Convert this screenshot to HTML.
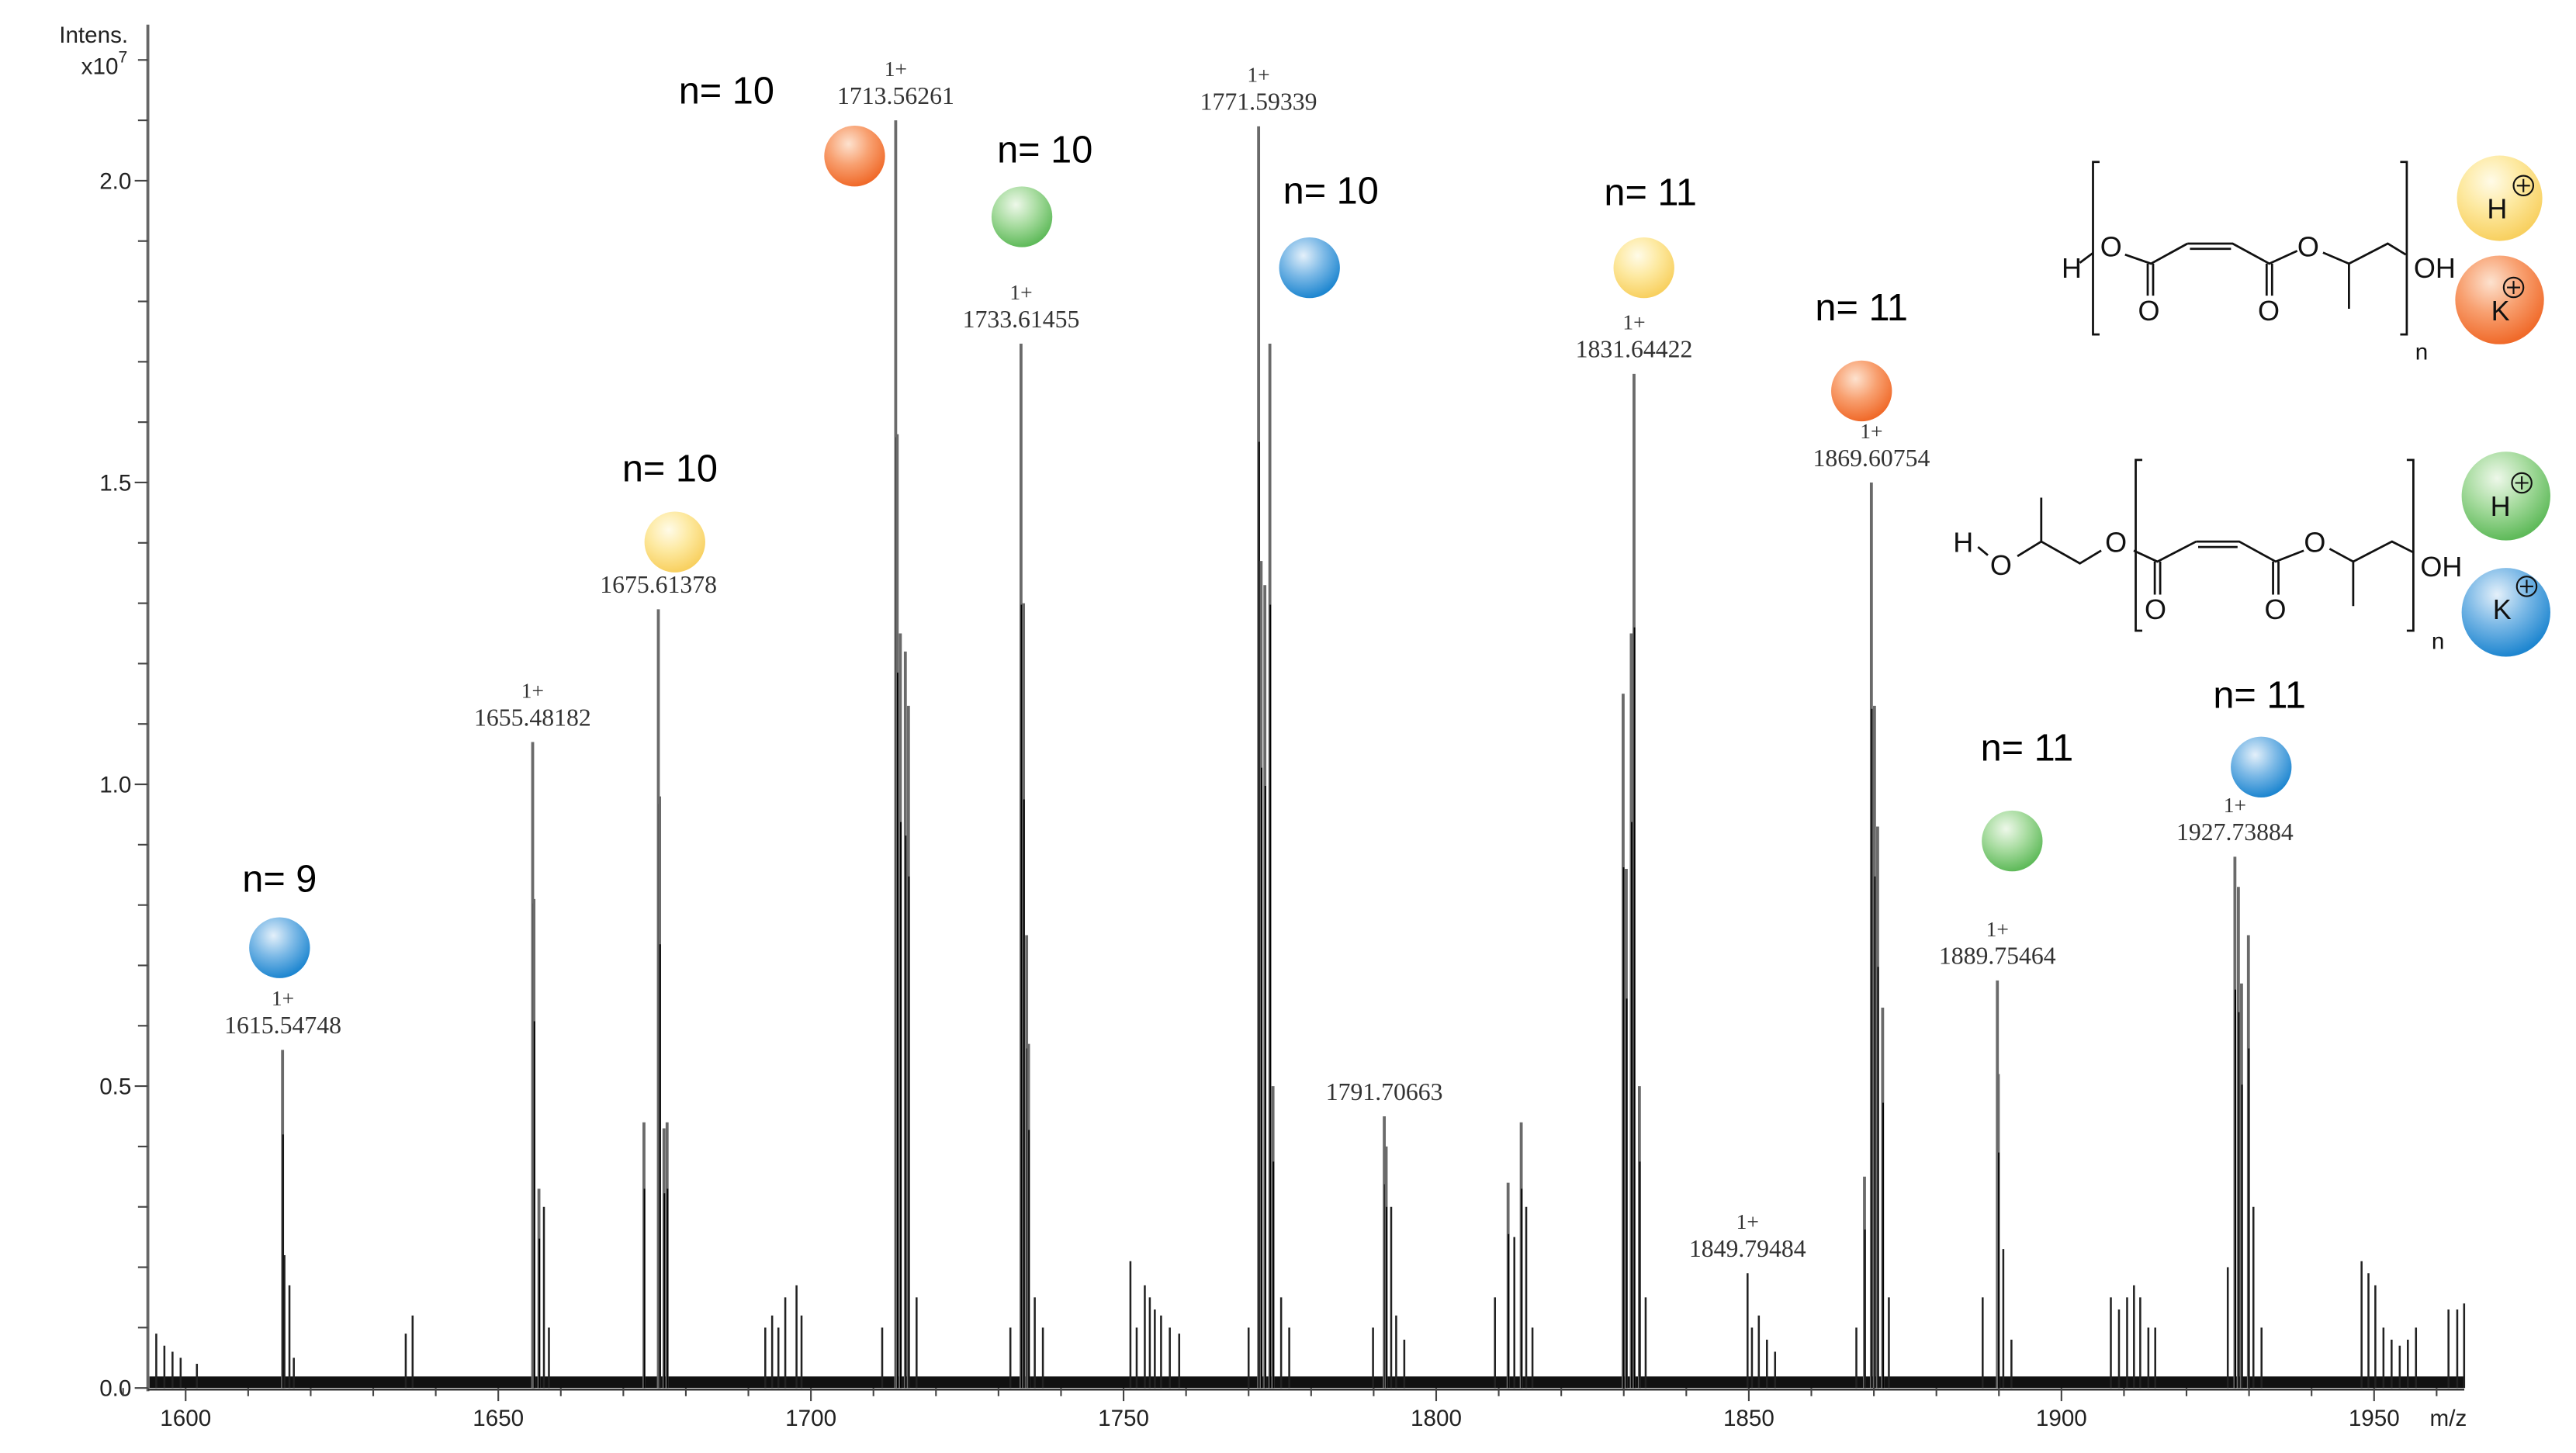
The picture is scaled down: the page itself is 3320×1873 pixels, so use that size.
<!DOCTYPE html>
<html><head><meta charset="utf-8"><style>
html,body{margin:0;padding:0;background:#fff}
svg{display:block}
.tk{font-family:"Liberation Sans",sans-serif;font-size:14px;fill:#222}
.pl{font-family:"Liberation Serif",serif;font-size:15px;fill:#333;text-anchor:middle}
.nl{font-family:"Liberation Sans",sans-serif;font-size:23px;fill:#000;text-anchor:middle}
.ch{font-family:"Liberation Sans",sans-serif;font-size:17px;fill:#111;text-anchor:middle}
</style></head><body>
<svg id="chart" width="3320" height="1873" viewBox="0 0 1568 884.6" xmlns="http://www.w3.org/2000/svg">
<defs>
<radialGradient id="gOr" cx="40%" cy="30%" r="70%"><stop offset="0" stop-color="#fde2cf"/><stop offset="0.5" stop-color="#f8a070"/><stop offset="1" stop-color="#f06a2a"/></radialGradient>
<radialGradient id="gGr" cx="40%" cy="30%" r="70%"><stop offset="0" stop-color="#eef8ea"/><stop offset="0.5" stop-color="#a8dca0"/><stop offset="1" stop-color="#5fba5a"/></radialGradient>
<radialGradient id="gBl" cx="40%" cy="30%" r="70%"><stop offset="0" stop-color="#e4f0fa"/><stop offset="0.5" stop-color="#7ab8e6"/><stop offset="1" stop-color="#1e86d0"/></radialGradient>
<radialGradient id="gYe" cx="40%" cy="30%" r="70%"><stop offset="0" stop-color="#fffbe8"/><stop offset="0.5" stop-color="#fde9a0"/><stop offset="1" stop-color="#f8d060"/></radialGradient>
</defs>
<g id="axes"></g>
<g id="peaks"></g>
<g id="annot"></g>

<g fill="none" stroke="#111" stroke-width="1.3">
<path d="M1278,98.6 h-4 v105 h4 M1461,98.6 h4 v105 h-4"/>
<path d="M1266,160 L1274,154"/>
<path d="M1293.5,155 L1309.3,160.5 L1331.5,148.3 M1333,151.5 L1358,151.5 M1331.5,148.3 L1359,148.3 L1381.3,160.5 L1398.3,152.7 M1414,153.8 L1429.8,160.5 L1453.4,148.3 L1464.4,155 M1429.8,160.5 L1429.8,188"/>
<path d="M1307.3,160.5 V180 M1310.6,160.5 V180 M1379.7,160.5 V180 M1383,160.5 V180"/>
</g>
<g>
<text class="ch" x="1261" y="169">H</text><text class="ch" x="1285" y="156">O</text>
<text class="ch" x="1308" y="195">O</text><text class="ch" x="1381" y="195">O</text>
<text class="ch" x="1405" y="156">O</text><text class="ch" x="1482" y="169">OH</text>
<text class="ch" x="1474" y="219" style="font-size:14px">n</text>
</g>
<g fill="none" stroke="#111" stroke-width="1.3">
<path d="M1304,280 h-4 v104 h4 M1465,280 h4 v104 h-4"/>
<path d="M1204,333 L1210,338 M1228,338.6 L1242.5,329.7 L1266,343 L1279,335.2 M1242.5,329.7 V303"/>
<path d="M1298.8,335.2 L1313.2,341.9 L1336.8,329.7 M1338,333 L1362,333 M1336.8,329.7 L1363,329.7 L1385.2,341.9 L1402.3,335.2 M1418,334.1 L1432.4,341.9 L1456,329.7 L1469,336.3 M1432.4,341.9 V369"/>
<path d="M1311.6,341.9 V362 M1314.9,341.9 V362 M1383.6,341.9 V362 M1386.9,341.9 V362"/>
</g>
<g>
<text class="ch" x="1195" y="336">H</text><text class="ch" x="1218" y="350">O</text>
<text class="ch" x="1288" y="336">O</text><text class="ch" x="1312" y="377">O</text>
<text class="ch" x="1385" y="377">O</text><text class="ch" x="1409" y="336">O</text>
<text class="ch" x="1486" y="351">OH</text><text class="ch" x="1484" y="395" style="font-size:14px">n</text>
</g>
<g>
<circle cx="1521.5" cy="120.7" r="26" fill="url(#gYe)"/>
<circle cx="1521.5" cy="182.6" r="27" fill="url(#gOr)"/>
<circle cx="1525.4" cy="302" r="27" fill="url(#gGr)"/>
<circle cx="1525.4" cy="372.8" r="27" fill="url(#gBl)"/>
<g class="ch" style="font-size:17px">
<text x="1520" y="133">H</text><text x="1522" y="195">K</text><text x="1522" y="314">H</text><text x="1523" y="377">K</text>
</g>
<g fill="none" stroke="#111" stroke-width="1">
<circle cx="1536" cy="113" r="6"/><path d="M1532,113h8M1536,109v8"/>
<circle cx="1530" cy="175" r="6"/><path d="M1526,175h8M1530,171v8"/>
<circle cx="1535" cy="294" r="6"/><path d="M1531,294h8M1535,290v8"/>
<circle cx="1538" cy="357" r="6"/><path d="M1534,357h8M1538,353v8"/>
</g>
</g>
</svg>
<script>
const yTicks = [0.0, 0.5, 1.0, 1.5, 2.0];
const yTickLabels = ["0.0", "0.5", "1.0", "1.5", "2.0"];
const xTicks = [1600, 1650, 1700, 1750, 1800, 1850, 1900, 1950];
const xTickLabels = ["1600", "1650", "1700", "1750", "1800", "1850", "1900", "1950"];
const peakMz = [1595.3,1596.6,1597.9,1599.2,1601.8,
1615.5,1615.8,1616.6,1617.3,1635.2,1636.3,
1655.5,1655.7,1656.5,1657.3,1658.1,
1673.3,1675.6,1675.8,1676.5,1677.0,
1692.7,1693.8,1694.8,1695.9,1697.7,1698.5,
1711.4,1713.56,1713.8,1714.3,1715.1,1715.6,1716.9,
1731.9,1733.6,1734.0,1734.5,1734.8,1735.8,1737.1,
1751.1,1752.1,1753.4,1754.2,1755.0,1756.0,1757.4,1758.9,
1770.0,1771.6,1772.0,1772.6,1773.4,1773.9,1775.2,1776.5,
1789.9,1791.7,1792.0,1792.8,1793.6,1794.9,
1809.4,1811.5,1812.5,1813.6,1814.4,1815.4,
1829.9,1830.4,1831.2,1831.64,1832.5,1833.5,
1849.8,1850.5,1851.6,1852.9,1854.2,
1867.2,1868.5,1869.6,1870.1,1870.6,1871.4,1872.4,
1887.4,1889.75,1889.9,1890.7,1892.0,
1907.9,1909.2,1910.5,1911.6,1912.6,1913.9,1915.0,
1926.6,1927.74,1928.3,1928.8,1929.9,1930.7,1932.0,
1948.0,1949.1,1950.2,1951.5,1952.8,1954.1,1955.4,1956.7,1961.9,1963.3,1964.4];
const peakInt = [0.09,0.07,0.06,0.05,0.04,
0.56,0.22,0.17,0.05,0.09,0.12,
1.07,0.81,0.33,0.30,0.10,
0.44,1.29,0.98,0.43,0.44,
0.10,0.12,0.10,0.15,0.17,0.12,
0.10,2.10,1.58,1.25,1.22,1.13,0.15,
0.10,1.73,1.30,0.75,0.57,0.15,0.10,
0.21,0.10,0.17,0.15,0.13,0.12,0.10,0.09,
0.10,2.09,1.37,1.33,1.73,0.50,0.15,0.10,
0.10,0.45,0.40,0.30,0.12,0.08,
0.15,0.34,0.25,0.44,0.30,0.10,
1.15,0.86,1.25,1.68,0.50,0.15,
0.19,0.10,0.12,0.08,0.06,
0.10,0.35,1.50,1.13,0.93,0.63,0.15,
0.15,0.675,0.52,0.23,0.08,
0.15,0.13,0.15,0.17,0.15,0.10,0.10,
0.20,0.88,0.83,0.67,0.75,0.30,0.10,
0.21,0.19,0.17,0.10,0.08,0.07,0.08,0.10,0.13,0.13,0.14];
const labelMz = [1615.54748,1655.48182,1675.61378,1713.56261,1733.61455,1771.59339,1791.70663,1831.64422,1849.79484,1869.60754,1889.75464,1927.73884];
const labelText = ["1615.54748","1655.48182","1675.61378","1713.56261","1733.61455","1771.59339","1791.70663","1831.64422","1849.79484","1869.60754","1889.75464","1927.73884"];
const labelInt = [0.56,1.07,1.29,2.10,1.73,2.09,0.45,1.68,0.19,1.50,0.675,0.88];
const labelCharge = ["1+","1+","","1+","1+","1+","","1+","1+","1+","1+","1+"];
const oligoN = ["n= 9","n= 10","n= 10","n= 10","n= 10","n= 11","n= 11","n= 11","n= 11"];
const oligoMz = [1615.54748,1675.61378,1713.56261,1733.61455,1771.59339,1831.64422,1869.60754,1889.75464,1927.73884];
const oligoIon = ["gBl","gYe","gOr","gGr","gBl","gYe","gOr","gGr","gBl"];

const NS="http://www.w3.org/2000/svg";
const X0=90, XR=1500, Y0=845, YTOP=15;
function xs(m){return 113+(m-1600)*3.806;}
function ys(v){return Y0-v*367.5;}
function mk(t,a,p){const e=document.createElementNS(NS,t);for(const k in a)e.setAttribute(k,a[k]);p.appendChild(e);return e;}
const axes=document.getElementById('axes'), peaks=document.getElementById('peaks'), ann=document.getElementById('annot');

let e=mk('line',{x1:X0,y1:YTOP,x2:X0,y2:Y0+2,stroke:'#666','stroke-width':1.8},axes);

e=mk('line',{x1:X0,y1:Y0+1,x2:XR,y2:Y0+1,stroke:'#333','stroke-width':1.2},axes);

for(let i=0;i<=22;i++){const v=i*0.1;const big=(i%5===0);
 e=mk('line',{x1:X0-(big?8:6),y1:ys(v),x2:X0,y2:ys(v),stroke:'#444','stroke-width':1},axes);
 }
yTicks.forEach((v,i)=>{e=mk('text',{x:X0-10,y:ys(v)+5,'text-anchor':'end',class:'tk'},axes);e.textContent=yTickLabels[i];
 });
for(let m=1590;m<=1960;m+=10){
 e=mk('line',{x1:xs(m),y1:Y0,x2:xs(m),y2:Y0+(m%50===0?8:5),stroke:'#444','stroke-width':1},axes);
 }
xTicks.forEach((m,i)=>{e=mk('text',{x:xs(m),y:868,'text-anchor':'middle',class:'tk'},axes);e.textContent=xTickLabels[i];
 });
e=mk('text',{x:1479,y:868,class:'tk'},axes);e.textContent='m/z';

e=mk('text',{x:78,y:26,'text-anchor':'end',class:'tk'},axes);e.textContent='Intens.';

e=mk('text',{x:72,y:45,'text-anchor':'end',class:'tk'},axes);e.textContent='x10';

e=mk('text',{x:72,y:38,class:'tk',style:'font-size:10px'},axes);e.textContent='7';


e=mk('rect',{x:X0+1,y:Y0-7,width:XR-X0-1,height:7,fill:'#111'},peaks);

peakMz.forEach((m,i)=>{const v=peakInt[i];
 e=mk('line',{x1:xs(m),y1:Y0,x2:xs(m),y2:ys(v),stroke:v>0.3?'#6a6a6a':'#222','stroke-width':v>0.3?1.8:1.2},peaks);
 
 if(v>0.3){e=mk('line',{x1:xs(m)+0.3,y1:Y0,x2:xs(m)+0.3,y2:ys(v*0.75),stroke:'#000','stroke-width':0.9},peaks);
 }
});
labelMz.forEach((m,i)=>{const top=ys(labelInt[i]);
 e=mk('text',{x:xs(m),y:top-10,class:'pl'},ann);e.textContent=labelText[i];
 
 if(labelCharge[i]){e=mk('text',{x:xs(m),y:top-27,class:'pl',style:'font-size:13px'},ann);e.textContent=labelCharge[i];
 }
});
const circDx=[-2,10,-25,0.5,31,6,-6,9,16];
const circY=[577,330,95,132,163,163,238,512,467];
const nDx=[-2,7,-103,14.5,44,10,-6,18,15];
const nY=[543,293,63,99,124,125,195,463,431];
oligoMz.forEach((m,i)=>{const cx=xs(m);
 e=mk('circle',{cx:cx+circDx[i],cy:circY[i],r:18.5,fill:'url(#'+oligoIon[i]+')'},ann);
 
 e=mk('text',{x:cx+nDx[i],y:nY[i],class:'nl'},ann);e.textContent=oligoN[i];
 
});
</script>
</body></html>
